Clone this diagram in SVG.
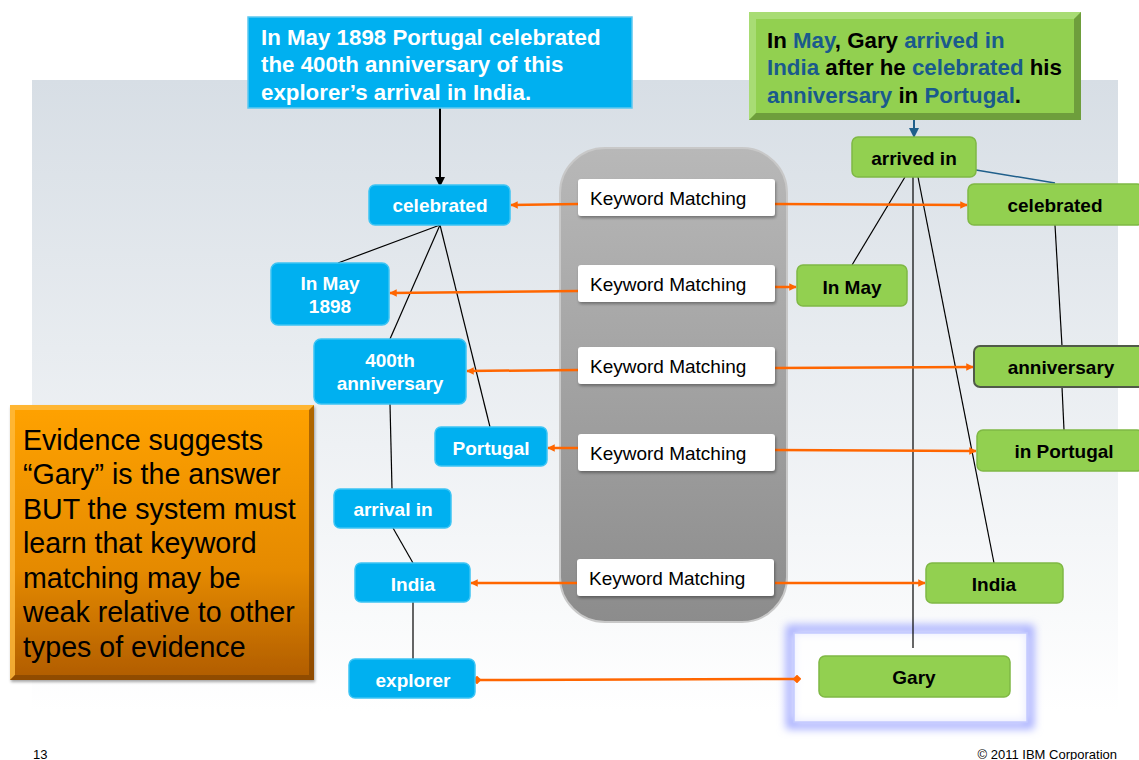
<svg xmlns="http://www.w3.org/2000/svg" width="1139" height="760" viewBox="0 0 1139 760">
<defs>
<linearGradient id="bg" x1="0" y1="0" x2="0" y2="1">
<stop offset="0" stop-color="#d7dee5"/>
<stop offset="1" stop-color="#ffffff"/>
</linearGradient>
<linearGradient id="gray" x1="0" y1="0" x2="0" y2="1">
<stop offset="0" stop-color="#b8b8b8"/>
<stop offset="1" stop-color="#8c8c8c"/>
</linearGradient>
<linearGradient id="orange" x1="0" y1="0" x2="0" y2="1">
<stop offset="0" stop-color="#ffa200"/>
<stop offset="0.6" stop-color="#e58a00"/>
<stop offset="1" stop-color="#b05c00"/>
</linearGradient>
<filter id="glow" x="-20%" y="-30%" width="140%" height="160%">
<feGaussianBlur stdDeviation="4"/>
</filter>
<filter id="sh" x="-10%" y="-10%" width="130%" height="140%">
<feDropShadow dx="1" dy="2" stdDeviation="1.5" flood-color="#000" flood-opacity="0.35"/>
</filter>
<marker id="arr" viewBox="0 0 10 10" refX="9" refY="5" markerWidth="3" markerHeight="3" orient="auto">
<path d="M0,0 L10,5 L0,10 z" fill="#ff6600"/>
</marker>
<marker id="dia" viewBox="0 0 10 10" refX="5" refY="5" markerWidth="3.5" markerHeight="3.5" orient="auto">
<path d="M0,5 L5,0 L10,5 L5,10 z" fill="#ff6600"/>
</marker>
<marker id="blk" viewBox="0 0 10 10" refX="9" refY="5" markerWidth="5" markerHeight="5" orient="auto">
<path d="M0,0 L10,5 L0,10 z" fill="#000"/>
</marker>
<marker id="blu" viewBox="0 0 10 10" refX="9" refY="5" markerWidth="5" markerHeight="5" orient="auto">
<path d="M0,0 L10,5 L0,10 z" fill="#1f5f8b"/>
</marker>
</defs>
<style>
.bn{fill:#00b0f0;stroke:#3cc4f4;stroke-width:1.5}
.gn{fill:#92d050;stroke:#7fb844;stroke-width:1.5}
.km{fill:#ffffff}
.bt{font-family:"Liberation Sans",Arial,sans-serif;font-weight:bold;font-size:19px;fill:#ffffff;text-anchor:middle}
.gt{font-family:"Liberation Sans",Arial,sans-serif;font-weight:bold;font-size:19px;fill:#000000;text-anchor:middle}
.kt{font-family:"Liberation Sans",Arial,sans-serif;font-size:19px;fill:#000000}
.or{stroke:#ff6600;stroke-width:2.5;fill:none}
.tl{stroke:#000;stroke-width:1.2;fill:none}
.ct{font-family:"Liberation Sans",Arial,sans-serif;font-weight:bold;font-size:22.3px}
.kw{fill:#1a5a8c}
.ft{font-family:"Liberation Sans",Arial,sans-serif;font-size:13px;fill:#000}
</style>
<rect x="32" y="80" width="1086" height="632" fill="url(#bg)"/>

<g id="container">
<rect x="560" y="148" width="227" height="474" rx="45" fill="url(#gray)" stroke="#c8c8c8" stroke-width="2"/>
</g>

<g id="gary-highlight">
<rect x="790" y="629" width="240" height="96" fill="none" stroke="#a4acff" stroke-width="8" filter="url(#glow)"/>
<rect x="794" y="633" width="233" height="89" fill="#ffffff" fill-opacity="0.7" stroke="#c4caff" stroke-width="1.5"/>
</g>

<g id="connectors">
<line x1="440" y1="108" x2="440" y2="186" stroke="#000" stroke-width="2" marker-end="url(#blk)"/>
<line x1="914" y1="120" x2="914" y2="137" stroke="#1f5f8b" stroke-width="2" marker-end="url(#blu)"/>
<line class="tl" x1="440" y1="225" x2="338" y2="263"/>
<line class="tl" x1="440" y1="225" x2="390" y2="339"/>
<line class="tl" x1="440" y1="225" x2="490" y2="427"/>
<line class="tl" x1="390" y1="404" x2="392" y2="489"/>
<line class="tl" x1="393" y1="528" x2="413" y2="563"/>
<line class="tl" x1="413" y1="602" x2="413" y2="659"/>
<line class="tl" x1="905" y1="177" x2="852" y2="265"/>
<line class="tl" x1="913" y1="177" x2="913" y2="648"/>
<line class="tl" x1="918" y1="177" x2="994" y2="563"/>
<line x1="976" y1="170" x2="1055" y2="183" stroke="#1f5f8b" stroke-width="1.5"/>
<line class="tl" x1="1055" y1="225" x2="1062" y2="346"/>
<line class="tl" x1="1062" y1="387" x2="1064" y2="430"/>
<line class="or" x1="578" y1="204" x2="511" y2="205" marker-end="url(#arr)"/>
<line class="or" x1="775" y1="204" x2="967" y2="205" marker-end="url(#arr)"/>
<line class="or" x1="578" y1="291" x2="390" y2="293" marker-end="url(#arr)"/>
<line class="or" x1="775" y1="287" x2="796" y2="287" marker-end="url(#arr)"/>
<line class="or" x1="578" y1="370" x2="467" y2="371" marker-end="url(#arr)"/>
<line class="or" x1="775" y1="368" x2="973" y2="367" marker-end="url(#arr)"/>
<line class="or" x1="578" y1="448" x2="548" y2="448" marker-end="url(#arr)"/>
<line class="or" x1="775" y1="450" x2="976" y2="451" marker-end="url(#arr)"/>
<line class="or" x1="578" y1="583" x2="471" y2="583" marker-end="url(#arr)"/>
<line class="or" x1="775" y1="583" x2="925" y2="583" marker-end="url(#arr)"/>
<line class="or" x1="477" y1="680" x2="797" y2="679" marker-start="url(#dia)" marker-end="url(#dia)"/>
</g>

<g id="km1"><rect class="km" x="578" y="179" width="197" height="37" rx="3" filter="url(#sh)"/><text class="kt" x="590" y="205">Keyword Matching</text></g>
<g id="km2"><rect class="km" x="578" y="265" width="197" height="37" rx="3" filter="url(#sh)"/><text class="kt" x="590" y="291">Keyword Matching</text></g>
<g id="km3"><rect class="km" x="578" y="347" width="197" height="37" rx="3" filter="url(#sh)"/><text class="kt" x="590" y="373">Keyword Matching</text></g>
<g id="km4"><rect class="km" x="578" y="434" width="197" height="37" rx="3" filter="url(#sh)"/><text class="kt" x="590" y="460">Keyword Matching</text></g>
<g id="km5"><rect class="km" x="577" y="559" width="197" height="37" rx="3" filter="url(#sh)"/><text class="kt" x="589" y="585">Keyword Matching</text></g>

<g id="q-callout">
<rect x="248" y="17" width="384" height="91" fill="#00b0f0" stroke="#5cc8f0" stroke-width="1.5"/>
<text class="ct" fill="#ffffff" x="261" y="45">In May 1898 Portugal celebrated</text>
<text class="ct" fill="#ffffff" x="261" y="72">the 400th anniversary of this</text>
<text class="ct" fill="#ffffff" x="261" y="100">explorer’s arrival in India.</text>
</g>

<g id="e-callout">
<rect x="749" y="12" width="332" height="108" fill="#92d050"/>
<path d="M749,12 H1081 L1074,19 H756 V113 L749,120 Z" fill="#a8dc74"/>
<path d="M1081,12 V120 H749 L756,113 H1074 V19 Z" fill="#6e9e3c"/>
<text class="ct" x="767" y="48"><tspan>In </tspan><tspan class="kw">May</tspan><tspan>, Gary </tspan><tspan class="kw">arrived in</tspan></text>
<text class="ct" x="767" y="75"><tspan class="kw">India</tspan><tspan> after he </tspan><tspan class="kw">celebrated</tspan><tspan> his</tspan></text>
<text class="ct" x="767" y="103"><tspan class="kw">anniversary</tspan><tspan> in </tspan><tspan class="kw">Portugal</tspan><tspan>.</tspan></text>
</g>

<g id="b-celebrated"><rect class="bn" x="369" y="185" width="141" height="40" rx="6"/><text class="bt" x="440" y="212">celebrated</text></g>
<g id="b-inmay1898"><rect class="bn" x="271" y="263" width="118" height="62" rx="7"/><text class="bt" x="330" y="290">In May</text><text class="bt" x="330" y="313">1898</text></g>
<g id="b-400th"><rect class="bn" x="314" y="339" width="152" height="65" rx="7"/><text class="bt" x="390" y="367">400th</text><text class="bt" x="390" y="390">anniversary</text></g>
<g id="b-portugal"><rect class="bn" x="435" y="427" width="112" height="39" rx="6"/><text class="bt" x="491" y="455">Portugal</text></g>
<g id="b-arrivalin"><rect class="bn" x="334" y="489" width="117" height="39" rx="6"/><text class="bt" x="393" y="516">arrival in</text></g>
<g id="b-india"><rect class="bn" x="355" y="563" width="115" height="39" rx="6"/><text class="bt" x="413" y="591">India</text></g>
<g id="b-explorer"><rect class="bn" x="349" y="659" width="126" height="39" rx="6"/><text class="bt" x="413" y="687">explorer</text></g>

<g id="g-arrivedin"><rect class="gn" x="852" y="137" width="124" height="40" rx="6"/><text class="gt" x="914" y="165">arrived in</text></g>
<g id="g-celebrated"><rect class="gn" x="968" y="184" width="175" height="41" rx="6"/><text class="gt" x="1055" y="212">celebrated</text></g>
<g id="g-inmay"><rect class="gn" x="797" y="265" width="110" height="41" rx="6"/><text class="gt" x="852" y="294">In May</text></g>
<g id="g-anniversary"><rect x="974" y="346" width="170" height="41" rx="6" fill="#92d050" stroke="#505a48" stroke-width="2"/><text class="gt" x="1061" y="374">anniversary</text></g>
<g id="g-inportugal"><rect class="gn" x="977" y="430" width="166" height="41" rx="6"/><text class="gt" x="1064" y="458">in Portugal</text></g>
<g id="g-india"><rect class="gn" x="926" y="563" width="137" height="40" rx="6"/><text class="gt" x="994" y="591">India</text></g>
<g id="g-gary"><rect class="gn" x="819" y="656" width="191" height="41" rx="6"/><text class="gt" x="914" y="684">Gary</text></g>

<g id="evidence">
<rect x="10" y="405" width="304" height="275" fill="url(#orange)" filter="url(#sh)"/>
<path d="M10,405 H314 L309,410 H15 V675 L10,680 Z" fill="#ffbb40" opacity="0.8"/>
<path d="M314,405 V680 H10 L15,675 H309 V410 Z" fill="#7a4000" opacity="0.6"/>
<g font-family="'Liberation Sans',Arial,sans-serif" font-size="28.6" fill="#000">
<text x="23" y="450">Evidence suggests</text>
<text x="23" y="484">“Gary” is the answer</text>
<text x="23" y="519">BUT the system must</text>
<text x="23" y="553">learn that keyword</text>
<text x="23" y="588">matching may be</text>
<text x="23" y="622">weak relative to other</text>
<text x="23" y="657">types of evidence</text>
</g>
</g>

<text class="ft" x="33" y="759">13</text>
<text class="ft" x="1117" y="759" text-anchor="end">© 2011 IBM Corporation</text>
</svg>
